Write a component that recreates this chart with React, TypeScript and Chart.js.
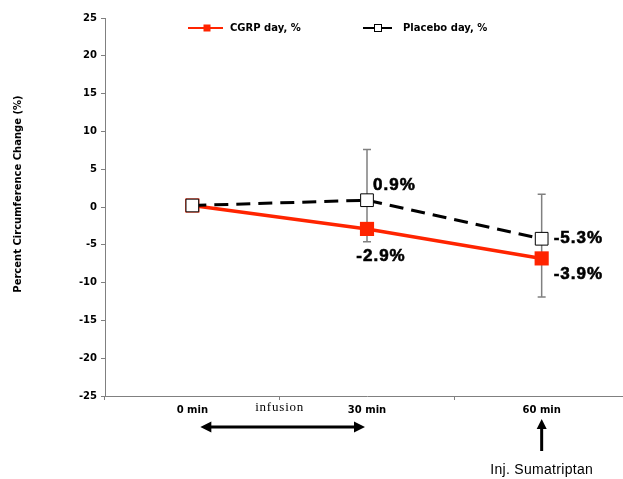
import React, { useEffect, useRef } from 'react';
import { Chart, registerables } from 'chart.js';

Chart.register(...registerables);

const categories = ['0 min', '30 min', '60 min'];
const cgrpValues = [0.2, -2.9, -6.8];
const placeboValues = [0.2, 0.9, -4.2];
const errorTop: (number | null)[] = [null, 7.6, 1.7];
const errorBottom: (number | null)[] = [null, -4.6, -11.9];
const cgrpLabels = ['', '-2.9%', '-3.9%'];
const placeboLabels = ['', '0.9%', '-5.3%'];
const yMin = -25;
const yMax = 25;
const yStep = 5;
const cgrpName = 'CGRP day, %';
const placeboName = 'Placebo day, %';
const yTitle = 'Percent Circumference Change (%)';
const infusionText = 'infusion';
const injText = 'Inj. Sumatriptan';

const RED = '#FF2400';
const AXIS = '#808080';
const BOLD = 'bold 10px "DejaVu Sans"';

const errorBarPlugin = {
  id: 'errorBars',
  beforeDatasetsDraw(chart: any) {
    const { ctx } = chart;
    const xs = chart.scales.x;
    const ys = chart.scales.y;
    ctx.save();
    ctx.strokeStyle = AXIS;
    ctx.lineWidth = 1.5;
    for (let i = 0; i < categories.length; i++) {
      const t = errorTop[i];
      const b = errorBottom[i];
      if (t == null || b == null) continue;
      const x = xs.getPixelForValue(i);
      const yt = ys.getPixelForValue(t);
      const yb = ys.getPixelForValue(b);
      ctx.beginPath();
      ctx.moveTo(x, yt);
      ctx.lineTo(x, yb);
      ctx.moveTo(x - 4, yt);
      ctx.lineTo(x + 4, yt);
      ctx.moveTo(x - 4, yb);
      ctx.lineTo(x + 4, yb);
      ctx.stroke();
    }
    ctx.restore();
  },
};

const labelOffsets = {
  placebo: [null, { dx: 6, dy: -15, align: 'left' }, { dx: 12, dy: 0, align: 'left' }],
  cgrp: [null, { dx: 14, dy: 27, align: 'center' }, { dx: 12, dy: 16, align: 'left' }],
};

const dataLabelPlugin = {
  id: 'dataLabels',
  afterDatasetsDraw(chart: any) {
    const { ctx } = chart;
    const xs = chart.scales.x;
    const ys = chart.scales.y;
    ctx.save();
    ctx.font = 'bold 17px "Liberation Sans"';
    (ctx as any).letterSpacing = '1px';
    ctx.fillStyle = '#000';
    ctx.strokeStyle = '#000';
    ctx.lineWidth = 0.6;
    ctx.textBaseline = 'middle';
    const draw = (vals: number[], labels: string[], offs: any[]) => {
      for (let i = 0; i < vals.length; i++) {
        const o = offs[i];
        if (!o || !labels[i]) continue;
        const x = xs.getPixelForValue(i);
        const y = ys.getPixelForValue(vals[i]);
        ctx.textAlign = o.align;
        ctx.fillText(labels[i], x + o.dx, y + o.dy);
        ctx.strokeText(labels[i], x + o.dx, y + o.dy);
      }
    };
    draw(placeboValues, placeboLabels, labelOffsets.placebo);
    draw(cgrpValues, cgrpLabels, labelOffsets.cgrp);
    ctx.restore();
  },
};

const decorPlugin = {
  id: 'decor',
  afterDraw(chart: any) {
    const { ctx, chartArea } = chart;
    const xs = chart.scales.x;
    const x0 = xs.getPixelForValue(0);
    const x1 = xs.getPixelForValue(1);
    const x2 = xs.getPixelForValue(2);
    const bottom = chartArea.bottom;
    ctx.save();

    // Legend
    const ly = chartArea.top + 10;
    ctx.lineWidth = 2;
    ctx.strokeStyle = RED;
    ctx.beginPath();
    ctx.moveTo(188, ly);
    ctx.lineTo(223, ly);
    ctx.stroke();
    ctx.fillStyle = RED;
    ctx.fillRect(203.5, ly - 3.5, 7, 7);
    ctx.strokeStyle = '#000';
    ctx.beginPath();
    ctx.moveTo(363, ly);
    ctx.lineTo(392, ly);
    ctx.stroke();
    ctx.fillStyle = '#fff';
    ctx.fillRect(374, ly - 3.5, 7, 7);
    ctx.lineWidth = 1;
    ctx.strokeRect(374.5, ly - 3.5, 7, 7);
    ctx.fillStyle = '#000';
    ctx.font = BOLD;
    ctx.textAlign = 'left';
    ctx.textBaseline = 'middle';
    ctx.fillText(cgrpName, 230, ly);
    ctx.fillText(placeboName, 403, ly);

    // Y title
    ctx.save();
    ctx.translate(18, 194);
    ctx.rotate(-Math.PI / 2);
    ctx.textAlign = 'center';
    ctx.fillText(yTitle, 0, 0);
    ctx.restore();

    // infusion text
    ctx.font = '13px "Liberation Serif"';
    (ctx as any).letterSpacing = '0.8px';
    ctx.textAlign = 'center';
    ctx.fillText(infusionText, (x0 + x1) / 2, bottom + 12);
    (ctx as any).letterSpacing = '0px';

    // double arrow
    const ay = bottom + 31;
    const ax0 = x0 + 8;
    const ax1 = x1 - 2;
    ctx.strokeStyle = '#000';
    ctx.lineWidth = 3;
    ctx.beginPath();
    ctx.moveTo(ax0 + 6, ay);
    ctx.lineTo(ax1 - 6, ay);
    ctx.stroke();
    ctx.beginPath();
    ctx.moveTo(ax0, ay);
    ctx.lineTo(ax0 + 11, ay - 5.5);
    ctx.lineTo(ax0 + 11, ay + 5.5);
    ctx.closePath();
    ctx.moveTo(ax1, ay);
    ctx.lineTo(ax1 - 11, ay - 5.5);
    ctx.lineTo(ax1 - 11, ay + 5.5);
    ctx.closePath();
    ctx.fill();

    // up arrow
    const tipY = bottom + 23;
    ctx.beginPath();
    ctx.moveTo(x2, tipY + 6);
    ctx.lineTo(x2, bottom + 55);
    ctx.stroke();
    ctx.beginPath();
    ctx.moveTo(x2, tipY);
    ctx.lineTo(x2 - 5, tipY + 10);
    ctx.lineTo(x2 + 5, tipY + 10);
    ctx.closePath();
    ctx.fill();

    ctx.font = '14px "Liberation Sans"';
    (ctx as any).letterSpacing = '0.3px';
    ctx.textAlign = 'center';
    ctx.fillText(injText, x2, bottom + 74);
    ctx.restore();
  },
};

export default function App() {
  const ref = useRef<HTMLCanvasElement | null>(null);
  useEffect(() => {
    if (!ref.current) return;
    const chart = new Chart(ref.current, {
      type: 'line',
      data: {
        labels: categories,
        datasets: [
          {
            label: cgrpName,
            data: cgrpValues,
            borderColor: RED,
            backgroundColor: RED,
            borderWidth: 3.5,
            pointStyle: 'rect',
            pointRadius: 10,
            pointBorderWidth: 0,
            pointBackgroundColor: RED,
            order: 1,
          },
          {
            label: placeboName,
            data: placeboValues,
            borderColor: '#000',
            backgroundColor: '#fff',
            borderWidth: 3,
            borderDash: [14, 8],
            pointStyle: 'rect',
            pointRadius: 9,
            pointBorderWidth: 1,
            pointBorderColor: '#000',
            pointBackgroundColor: '#fff',
            order: 0,
          },
        ],
      },
      options: {
        animation: false,
        responsive: false,
        devicePixelRatio: 1,
        layout: { padding: { left: 8, right: 11, top: 18, bottom: 53 } },
        plugins: { legend: { display: false }, tooltip: { enabled: false } },
        scales: {
          x: {
            type: 'category',
            offset: true,
            grid: { offset: true, drawOnChartArea: false, drawTicks: true, tickLength: 4, color: AXIS },
            border: { display: true, color: AXIS, width: 1 },
            ticks: { font: { family: 'DejaVu Sans', weight: 'bold', size: 10 }, color: '#000', padding: 4, maxRotation: 0 },
            afterFit: (s: any) => { s.height = 30; },
          },
          y: {
            min: yMin,
            max: yMax,
            ticks: { stepSize: yStep, font: { family: 'DejaVu Sans', weight: 'bold', size: 10 }, color: '#000', padding: 4 },
            grid: { drawOnChartArea: false, drawTicks: true, tickLength: 4, color: AXIS },
            border: { display: true, color: AXIS, width: 1 },
            afterFit: (s: any) => { s.width = 97; },
          },
        },
      },
      plugins: [errorBarPlugin, dataLabelPlugin, decorPlugin],
    } as any);
    return () => chart.destroy();
  }, []);
  return (
    <div style={{ position: 'fixed', left: 0, top: 0, width: 623, height: 479, overflow: 'hidden', background: '#fff' }}>
      <canvas ref={ref} width={640} height={479} style={{ display: 'block' }} />
    </div>
  );
}
